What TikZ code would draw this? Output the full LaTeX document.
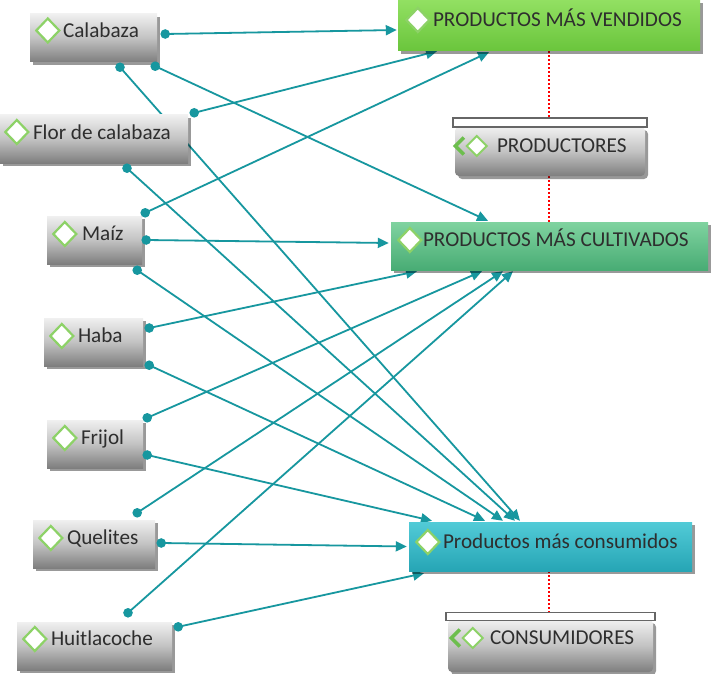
\documentclass[tikz,border=0pt]{standalone}
\usepackage{fontspec}
\setmainfont{Carlito}
\usetikzlibrary{arrows.meta,calc,shadows}
\pgfdeclarelayer{paper}\pgfdeclarelayer{bg}\pgfdeclarelayer{fg}
\pgfsetlayers{paper,bg,main,fg}
\definecolor{conn}{HTML}{17979F}
\definecolor{gbtop}{HTML}{F0F0F0}
\definecolor{gbmid}{HTML}{C2C2C2}
\definecolor{gbbot}{HTML}{7E7E7E}
\definecolor{vtop}{HTML}{92E062}
\definecolor{vbot}{HTML}{6AC53C}
\definecolor{ctop}{HTML}{80D3A0}
\definecolor{cbot}{HTML}{48AC74}
\definecolor{ktop}{HTML}{52CBD7}
\definecolor{kbot}{HTML}{26A5B5}
\definecolor{txt}{HTML}{2E2E2E}
\definecolor{icong}{HTML}{8DD267}
\definecolor{chev}{HTML}{6DBE4E}
\tikzset{
  shadowed/.style={drop shadow={shadow xshift=3pt,shadow yshift=-3pt,fill=black,opacity=0.4}},
  boxbase/.style={rectangle, inner sep=0pt, shadowed},
  graybox/.style={boxbase, top color=gbtop, bottom color=gbbot, middle color=gbmid},
  venbox/.style={boxbase, top color=vtop, bottom color=vbot},
  culbox/.style={boxbase, top color=ctop, bottom color=cbot},
  conbox/.style={boxbase, top color=ktop, bottom color=kbot},
  headbar/.style={rectangle, inner sep=0pt, fill=white, draw=gray!80!black, line width=1.2pt},
  lbl/.style={anchor=west, inner sep=0pt, text height=13.6pt, text depth=0pt, text=txt, font=\fontsize{21.2}{25}\selectfont},
  conn/.style={draw=conn, line width=1.8pt, -{Triangle[length=11pt,width=10pt]}},
  dotfill/.style={fill=conn},
  reddot/.style={draw=red, line width=1.5pt, dash pattern=on 2pt off 2pt},
  diam/.style={fill=white, draw=icong, line width=2.2pt, line join=miter}
}
\newcommand\dicon[1]{\begin{scope}[shift={#1}]
  \path[diam] (-11.5,0) -- (0,-12) -- (11.5,0) -- (0,12) -- cycle;
\end{scope}}
\newcommand\ddicon[1]{\begin{scope}[shift={#1}]
  \draw[chev, line width=3.5pt, line join=miter] (-13,-8.5) -- (-21.5,0) -- (-13,8.5);
  \path[diam, line width=2pt] (-10,0) -- (0,-10) -- (10,0) -- (0,10) -- cycle;
\end{scope}}
\begin{document}
\begin{tikzpicture}[x=1pt,y=-1pt]
\begin{pgfonlayer}{paper}
\fill[white] (0,0) rectangle (712,674);
\end{pgfonlayer}
\useasboundingbox (0,0) rectangle (712,674);
% left boxes
\node[graybox, minimum width=127pt, minimum height=48pt] (cal) at (93.5,38) {};
\node[graybox, minimum width=188pt, minimum height=48pt] (flor) at (94,139) {};
\node[graybox, minimum width=95pt, minimum height=48pt] (maiz) at (94.5,240) {};
\node[graybox, minimum width=99pt, minimum height=48pt] (haba) at (93.5,342) {};
\node[graybox, minimum width=96pt, minimum height=48pt] (frij) at (95,444) {};
\node[graybox, minimum width=122pt, minimum height=48pt] (quel) at (94,544) {};
\node[graybox, minimum width=155pt, minimum height=48pt] (huit) at (94.5,646) {};
% right boxes
\node[venbox, minimum width=302pt, minimum height=51pt] (ven) at (549,25.5) {};
\node[culbox, minimum width=317pt, minimum height=48pt] (cul) at (549.5,246) {};
\node[conbox, minimum width=283pt, minimum height=49pt] (con) at (550.5,546.5) {};
\node[graybox, rounded corners=4pt, minimum width=190pt, minimum height=49pt] (prod) at (550,151.5) {};
\node[headbar, minimum width=194pt, minimum height=9pt] (prodh) at (550,122.5) {};
\node[graybox, rounded corners=4pt, minimum width=205pt, minimum height=52pt] (cons) at (550.5,646) {};
\node[headbar, minimum width=209pt, minimum height=8pt] (consh) at (550.5,616.5) {};
% icons
\dicon{($(cal.west)+(18,-7.5)$)}
\dicon{($(flor.west)+(17,-7)$)}
\dicon{($(maiz.west)+(18,-6)$)}
\dicon{($(haba.west)+(18,-6)$)}
\dicon{($(frij.west)+(18,-6)$)}
\dicon{($(quel.west)+(18,-6)$)}
\dicon{($(huit.west)+(18,-7)$)}
\dicon{($(ven.west)+(20,-5.5)$)}
\dicon{($(cul.west)+(19,-6)$)}
\dicon{($(con.west)+(19,-4.5)$)}
\ddicon{($(prod.west)+(22,-5.5)$)}
\ddicon{($(cons.west)+(25,-8)$)}
% labels
\node[lbl] (calt) at ($(cal.west)+(33,-7)$) {Calabaza};
\node[lbl] (flort) at ($(flor.west)+(33,-6)$) {Flor de calabaza};
\node[lbl] (maizt) at ($(maiz.west)+(35,-6)$) {Maíz};
\node[lbl] (habat) at ($(haba.west)+(34,-6)$) {Haba};
\node[lbl] (frijt) at ($(frij.west)+(34,-6)$) {Frijol};
\node[lbl] (quelt) at ($(quel.west)+(34,-6)$) {Quelites};
\node[lbl] (huitt) at ($(huit.west)+(34,-7)$) {Huitlacoche};
\node[lbl] (vent) at ($(ven.west)+(35,-5.5)$) {PRODUCTOS MÁS VENDIDOS};
\node[lbl] (cult) at ($(cul.west)+(32,-6)$) {PRODUCTOS MÁS CULTIVADOS};
\node[lbl] (cont) at ($(con.west)+(34,-4.5)$) {Productos más consumidos};
\node[lbl] (prodt) at ($(prod.west)+(42,-5.5)$) {PRODUCTORES};
\node[lbl] (const) at ($(cons.west)+(42,-8)$) {CONSUMIDORES};
% start points
\coordinate (s1) at ($(cal.east)+(8,-4)$);
\coordinate (s2) at ($(cal.south)+(26.5,5)$);
\coordinate (s3) at ($(cal.south east)+(-2,4)$);
\coordinate (s4) at ($(flor.north east)+(6,-2)$);
\coordinate (s5) at ($(flor.south)+(33,5)$);
\coordinate (s6) at ($(maiz.north east)+(3,-3)$);
\coordinate (s7) at ($(maiz.east)+(4,0)$);
\coordinate (s8) at ($(maiz.south east)+(-5,6)$);
\coordinate (s9) at ($(haba.east)+(6,-14)$);
\coordinate (s10) at ($(haba.south east)+(6,-1)$);
\coordinate (s11) at ($(frij.north east)+(4,-2)$);
\coordinate (s12) at ($(frij.east)+(4,11)$);
\coordinate (s13) at ($(quel.north east)+(-18,-7)$);
\coordinate (s14) at ($(quel.east)+(6,-1)$);
\coordinate (s15) at ($(huit.north)+(33.5,-9)$);
\coordinate (s16) at ($(huit.north east)+(6,5)$);
\begin{pgfonlayer}{bg}
\draw[conn] (s1) -- ($(ven.west)+(-1,4.5)$);
\draw[conn] (s2) -- ($(con.north)+(-30.5,-1)$);
\draw[conn] (s3) -- ($(cul.north)+(-61.5,-1)$);
\draw[conn] (s4) -- ($(ven.south)+(-112,0)$);
\draw[conn] (s5) -- ($(con.north)+(-35.5,-1)$);
\draw[conn] (s6) -- ($(ven.south)+(-60,1)$);
\draw[conn] (s7) -- ($(cul.west)+(-2,-3)$);
\draw[conn] (s8) -- ($(con.north)+(-47.5,-1)$);
\draw[conn] (s9) -- ($(cul.south)+(-132.5,1)$);
\draw[conn] (s10) -- ($(con.north)+(-65.5,-1)$);
\draw[conn] (s11) -- ($(cul.south)+(-67.5,1)$);
\draw[conn] (s12) -- ($(con.north)+(-118.5,-1)$);
\draw[conn] (s13) -- ($(cul.south)+(-46.5,1)$);
\draw[conn] (s14) -- ($(con.west)+(-2,0)$);
\draw[conn] (s15) -- ($(cul.south)+(-36.5,1)$);
\draw[conn] (s16) -- ($(con.south)+(-126.5,2)$);
\draw[reddot] (ven.south) -- (ven.south |- prodh.north);
\draw[reddot] (prod.south -| ven.south) -- (ven.south |- cul.north);
\draw[reddot] (con.south -| ven.south) -- (ven.south |- consh.north);
\end{pgfonlayer}
\begin{pgfonlayer}{fg}
\foreach \p in {s1,s2,s3,s4,s5,s6,s7,s8,s9,s10,s11,s12,s13,s14,s15,s16}
  \fill[dotfill] (\p) circle (4.8);
\end{pgfonlayer}
\end{tikzpicture}
\end{document}
